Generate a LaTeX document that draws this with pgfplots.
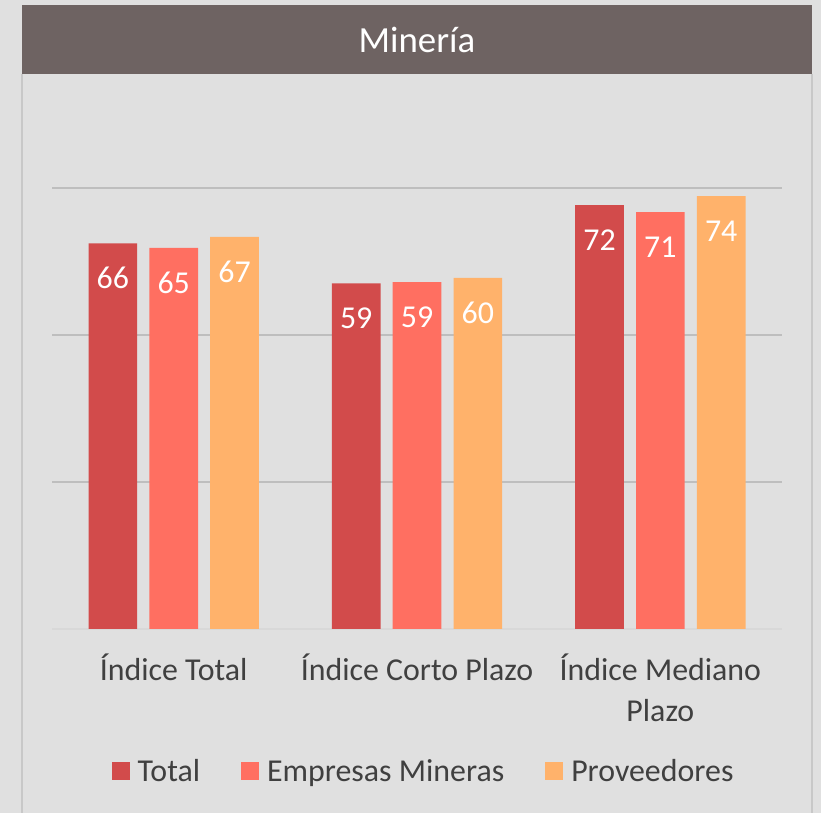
\documentclass[border=0pt]{standalone}
\usepackage{fontspec}
\setmainfont{Carlito}
\usepackage{pgfplots}
\pgfplotsset{compat=1.18}

\definecolor{bg}{HTML}{E0E0E0}
\definecolor{titlebar}{HTML}{6E6362}
\definecolor{frameline}{HTML}{C8C8C8}
\definecolor{gridc}{HTML}{BEBEBE}
\definecolor{basec}{HTML}{D8D8D8}
\definecolor{txt}{HTML}{404040}
\definecolor{cTotal}{HTML}{D24B4B}
\definecolor{cEmp}{HTML}{FF6F61}
\definecolor{cProv}{HTML}{FFB26B}

\begin{document}
\begin{tikzpicture}[x=1bp,y=1bp]
% panel background and title band
\fill[bg] (0,0) rectangle (821,813);
\fill[titlebar] (22,739) rectangle (812,808);
\node[white, font=\fontsize{37}{44}\selectfont] at (417,773) {Minería};
\draw[frameline, line width=1.5bp] (22,0) -- (22,739) (812,0) -- (812,739);

\begin{axis}[
    at={(52bp,184bp)}, anchor=south west,
    scale only axis,
    width=730bp, height=441bp,
    ybar,
    xmin=-0.5, xmax=2.5,
    ymin=0, ymax=75,
    xtick={0,1,2},
    xticklabels={Índice Total, Índice Corto Plazo, {Índice Mediano\\Plazo}},
    xticklabel style={align=center, text=txt, font=\fontsize{32}{42}\selectfont, yshift=-21bp},
    ytick={25,50,75},
    yticklabels={},
    ymajorgrids,
    grid style={gridc, line width=1.5bp},
    extra y ticks={0},
    extra y tick labels={},
    extra y tick style={grid style={basec, line width=1.5bp}},
    major tick length=0pt,
    axis line style={draw=none},
    clip=false,
    bar width=0.2,
    /pgf/number format/assume math mode=true,
    nodes near coords={\pgfmathprintnumber[fixed,precision=0]{\pgfplotspointmeta}},
    every node near coord/.append style={anchor=center, yshift=-35bp, text=white,
        font=\fontsize{32}{38}\selectfont},
    legend columns=3,
    legend style={at={(0.509,-0.322)}, anchor=center, draw=none, fill=none,
        font=\fontsize{32}{38}\selectfont, text=txt,
        /tikz/every even column/.append style={column sep=39bp}},
    legend image code/.code={\fill[#1] (0bp,-9bp) rectangle (18bp,9bp); \path (24bp,0bp);},
]
\addplot[fill=cTotal, draw=none, bar shift=-0.25] coordinates {(0,65.6) (1,58.8) (2,72.1)};
\addplot[fill=cEmp, draw=none, bar shift=0] coordinates {(0,64.8) (1,59.0) (2,70.9)};
\addplot[fill=cProv, draw=none, bar shift=0.25] coordinates {(0,66.7) (1,59.7) (2,73.6)};
\legend{Total, Empresas Mineras, Proveedores}
\end{axis}
\end{tikzpicture}
\end{document}
